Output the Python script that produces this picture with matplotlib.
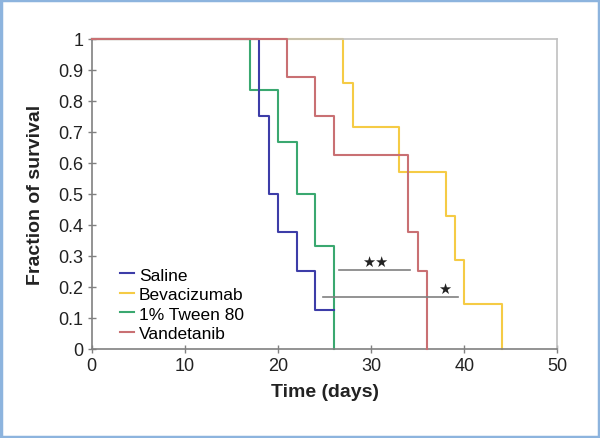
import matplotlib
matplotlib.use("Agg")
import matplotlib.pyplot as plt
from matplotlib.patches import Rectangle

plt.rcParams['font.family'] = ['Liberation Sans', 'DejaVu Sans']

# survival data (day of event, fraction surviving after it)
saline_t = [18, 19, 20, 22, 24, 26]
saline_s = [0.75, 0.5, 0.375, 0.25, 0.125, 0.125]

bev_t = [27, 28, 33, 38, 39, 40, 44]
bev_s = [0.857, 0.714, 0.571, 0.429, 0.286, 0.143, 0.0]

tween_t = [17, 20, 22, 24, 26]
tween_s = [0.833, 0.667, 0.5, 0.333, 0.0]

vand_t = [21, 24, 26, 34, 35, 36]
vand_s = [0.875, 0.75, 0.625, 0.375, 0.25, 0.0]

# significance bars: x start, x end, y, label, label x
sig_x0 = [26.5, 24.8]
sig_x1 = [34.2, 39.3]
sig_y = [0.254, 0.166]
sig_lbl = ["\u2605\u2605", "\u2605"]
sig_lx = [30.4, 37.9]

fig = plt.figure(figsize=(6, 4.39), dpi=100)
ax = fig.add_axes([0.153, 0.203, 0.776, 0.707])

series = [
    ("Saline", saline_t, saline_s, "#3d3da8", 3),
    ("Bevacizumab", bev_t, bev_s, "#f5cb45", 2),
    ("1% Tween 80", tween_t, tween_s, "#3aa870", 2.5),
    ("Vandetanib", vand_t, vand_s, "#c97073", 4),
]
for name, t, s, col, z in series:
    ax.step([0] + t, [1] + s, where="post", color=col, lw=1.5,
            label=name, zorder=z, clip_on=False)

for x0, x1, y, lbl, lx in zip(sig_x0, sig_x1, sig_y, sig_lbl, sig_lx):
    ax.plot([x0, x1], [y, y], color="#808080", lw=1.2, zorder=5)
    ax.text(lx, y + 0.004, lbl, ha="center", va="bottom", fontsize=10.5,
            family="DejaVu Sans", color="#222222", zorder=6)

ax.set_xlim(0, 50)
ax.set_ylim(0, 1)
ax.set_xticks([0, 10, 20, 30, 40, 50])
ax.set_yticks([0, 0.1, 0.2, 0.3, 0.4, 0.5, 0.6, 0.7, 0.8, 0.9, 1])
ax.set_yticklabels(["0", "0.1", "0.2", "0.3", "0.4", "0.5", "0.6",
                    "0.7", "0.8", "0.9", "1"])
ax.tick_params(direction="inout", length=6, width=1, color="#808080",
               labelsize=13, labelcolor="#222222", pad=3)
for sp in ["left", "bottom"]:
    ax.spines[sp].set_color("#808080")
    ax.spines[sp].set_linewidth(1.2)
for sp in ["top", "right"]:
    ax.spines[sp].set_color("#c0c0c0")
    ax.spines[sp].set_linewidth(1.2)

ax.set_xlabel("Time (days)", fontsize=14, fontweight="bold", color="#222222",
              labelpad=6)
ax.set_ylabel("Fraction of survival", fontsize=14, fontweight="bold",
              color="#222222", labelpad=10)

ax.legend(loc="upper left", bbox_to_anchor=(0.045, 0.285), frameon=False,
          fontsize=12.5, handlelength=0.8, handletextpad=0.3,
          labelspacing=0.25, borderaxespad=0)

fig.patches.append(Rectangle((0.002, 0.003), 0.996, 0.994, transform=fig.transFigure,
                             fill=False, edgecolor="#8db4de", lw=2.5))

plt.savefig("out.png", dpi=100)
